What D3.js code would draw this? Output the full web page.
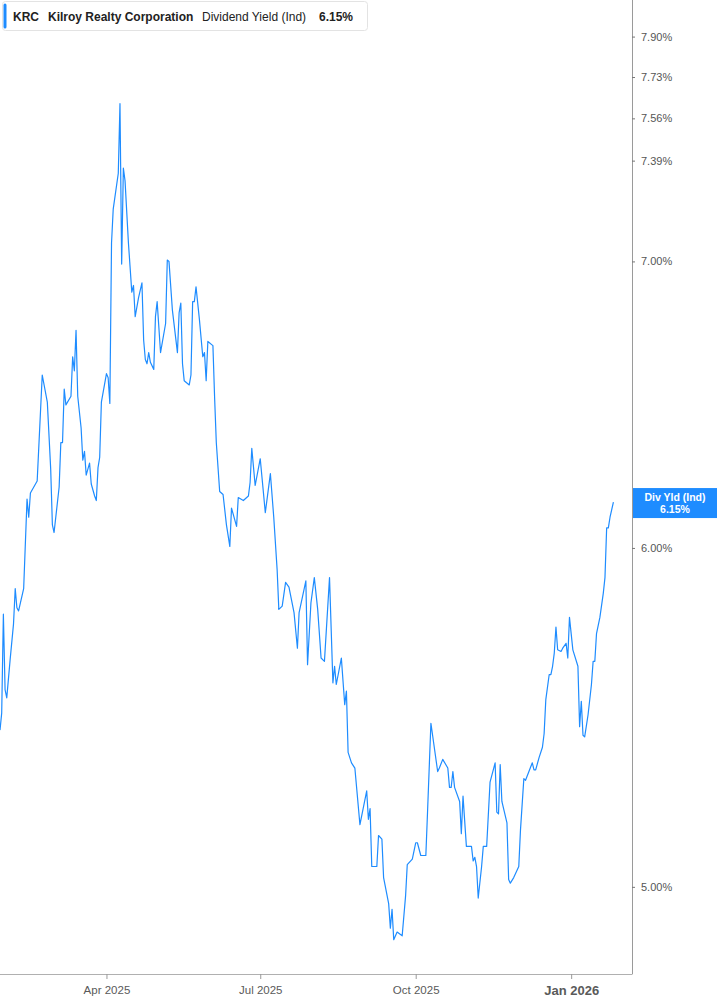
<!DOCTYPE html>
<html>
<head>
<meta charset="utf-8">
<script src="https://cdn.jsdelivr.net/npm/d3@7"></script>
<style>
  html, body { margin: 0; padding: 0; background: #fff; }
  svg { display: block; }
</style>
</head>
<body>
<div id="chart"></div>
<script>
const ticker = "KRC";
const company = "Kilroy Realty Corporation";
const metric = "Dividend Yield (Ind)";
const badgeLabel = "Div Yld (Ind)";

const dates = [
"2025-01-28","2025-01-29","2025-01-30","2025-01-31","2025-02-01","2025-02-03","2025-02-05","2025-02-06","2025-02-07","2025-02-08",
"2025-02-11","2025-02-13","2025-02-14","2025-02-15","2025-02-19","2025-02-22","2025-02-25","2025-02-27","2025-02-28","2025-03-01",
"2025-03-04","2025-03-05","2025-03-06","2025-03-07","2025-03-08","2025-03-11","2025-03-12","2025-03-13","2025-03-14","2025-03-15",
"2025-03-17","2025-03-18","2025-03-19","2025-03-20","2025-03-22","2025-03-23","2025-03-25","2025-03-26","2025-03-27","2025-03-28",
"2025-03-29","2025-04-01","2025-04-02","2025-04-03","2025-04-04","2025-04-05","2025-04-08","2025-04-09","2025-04-10","2025-04-11",
"2025-04-12","2025-04-14","2025-04-16","2025-04-17","2025-04-18","2025-04-20","2025-04-22","2025-04-23","2025-04-24","2025-04-25",
"2025-04-26","2025-04-27","2025-04-29","2025-04-30","2025-05-01","2025-05-03","2025-05-06","2025-05-07","2025-05-08","2025-05-10",
"2025-05-13","2025-05-14","2025-05-15","2025-05-16","2025-05-17","2025-05-20","2025-05-21","2025-05-22","2025-05-23","2025-05-24",
"2025-05-26","2025-05-28","2025-05-29","2025-05-30","2025-05-31","2025-06-03","2025-06-04","2025-06-05","2025-06-07","2025-06-09",
"2025-06-11","2025-06-13","2025-06-14","2025-06-17","2025-06-18","2025-06-21","2025-06-24","2025-06-25","2025-06-26","2025-06-28",
"2025-07-01","2025-07-04","2025-07-07","2025-07-09","2025-07-11","2025-07-12","2025-07-14","2025-07-16","2025-07-18","2025-07-21",
"2025-07-23","2025-07-24","2025-07-28","2025-07-29","2025-07-31","2025-08-02","2025-08-04","2025-08-06","2025-08-08","2025-08-11",
"2025-08-13","2025-08-14","2025-08-15","2025-08-18","2025-08-20","2025-08-21","2025-08-22","2025-08-24","2025-08-26","2025-08-29",
"2025-09-02","2025-09-03","2025-09-04","2025-09-05","2025-09-08","2025-09-09","2025-09-11","2025-09-12","2025-09-15","2025-09-16",
"2025-09-17","2025-09-18","2025-09-20","2025-09-23","2025-09-25","2025-09-26","2025-09-29","2025-10-01","2025-10-02","2025-10-04",
"2025-10-07","2025-10-08","2025-10-10","2025-10-14","2025-10-15","2025-10-17","2025-10-20","2025-10-21","2025-10-22","2025-10-23",
"2025-10-24","2025-10-27","2025-10-28","2025-10-29","2025-10-31","2025-11-03","2025-11-04","2025-11-05","2025-11-06","2025-11-07",
"2025-11-09","2025-11-10","2025-11-12","2025-11-14","2025-11-17","2025-11-18","2025-11-19","2025-11-20","2025-11-21","2025-11-24",
"2025-11-25","2025-11-26","2025-11-28","2025-12-01","2025-12-02","2025-12-04","2025-12-05","2025-12-07","2025-12-09","2025-12-10",
"2025-12-11","2025-12-13","2025-12-15","2025-12-16","2025-12-17","2025-12-19","2025-12-20","2025-12-21","2025-12-22","2025-12-23",
"2025-12-24","2025-12-26","2025-12-27","2025-12-29","2025-12-30","2025-12-31","2026-01-02","2026-01-05","2026-01-06","2026-01-07",
"2026-01-08","2026-01-09","2026-01-11","2026-01-13","2026-01-14","2026-01-15","2026-01-16","2026-01-18","2026-01-20","2026-01-21",
"2026-01-22","2026-01-23","2026-01-24","2026-01-26"
];

const yieldValues = [
5.44,5.49,5.79,5.56,5.535,5.65,5.76,5.87,5.81,5.80,
5.87,6.16,6.10,6.18,6.22,6.585,6.49,6.26,6.075,6.05,
6.20,6.35,6.35,6.535,6.48,6.51,6.65,6.60,6.745,6.51,
6.40,6.29,6.32,6.24,6.28,6.21,6.17,6.155,6.265,6.30,
6.49,6.59,6.575,6.485,7.07,7.20,7.34,7.62,6.99,7.36,
7.31,7.07,6.885,6.91,6.795,6.865,6.92,6.71,6.64,6.625,
6.665,6.63,6.605,6.795,6.85,6.665,6.77,7.005,7.00,6.82,
6.665,6.81,6.845,6.625,6.565,6.55,6.585,6.85,6.85,6.905,
6.785,6.65,6.665,6.565,6.705,6.69,6.505,6.35,6.185,6.175,
6.075,6.005,6.13,6.07,6.165,6.155,6.17,6.215,6.33,6.205,
6.295,6.115,6.245,6.10,5.93,5.805,5.815,5.89,5.875,5.795,
5.685,5.795,5.895,5.635,5.825,5.905,5.805,5.655,5.645,5.905,
5.58,5.63,5.575,5.655,5.515,5.555,5.375,5.345,5.33,5.17,
5.265,5.185,5.215,5.055,5.055,5.14,5.13,5.025,4.955,4.89,
4.94,4.86,4.88,4.87,4.975,5.06,5.075,5.12,5.12,5.085,
5.085,5.205,5.46,5.32,5.33,5.355,5.33,5.275,5.275,5.32,
5.275,5.235,5.145,5.25,5.11,5.11,5.07,5.08,5.055,4.97,
5.055,5.11,5.11,5.29,5.345,5.205,5.20,5.34,5.235,5.175,
5.02,5.01,5.025,5.055,5.155,5.30,5.295,5.32,5.345,5.325,
5.325,5.36,5.39,5.43,5.53,5.605,5.605,5.63,5.67,5.75,
5.68,5.675,5.685,5.70,5.655,5.78,5.68,5.63,5.45,5.525,
5.425,5.42,5.485,5.575,5.645,5.645,5.73,5.78,5.855,5.905,
6.065,6.065,6.10,6.15
];

const yTickValues = [5.00, 6.00, 7.00, 7.39, 7.56, 7.73, 7.90];
const xTickDates = ["2025-04-01", "2025-07-01", "2025-10-01", "2026-01-01"];
const xTickLabels = ["Apr 2025", "Jul 2025", "Oct 2025", "Jan 2026"];
const xDomain = ["2025-01-28", "2026-02-06"];
const yDomain = [4.771, 8.057];

const W = 717, H = 1005;
const plotRight = 632, plotBottom = 974;
const blue = "#1e8cff";

const parse = d3.utcParse("%Y-%m-%d");
const data = dates.map((d, i) => ({ date: parse(d), value: yieldValues[i] }));

const x = d3.scaleUtc().domain(xDomain.map(parse)).range([0, plotRight]);
const y = d3.scaleLog().domain(yDomain).range([plotBottom, 0]);

const svg = d3.select("#chart").append("svg")
  .attr("width", W).attr("height", H)
  .style("font-family", "'Liberation Sans', Arial, sans-serif");

// line
const line = d3.line().x(d => x(d.date)).y(d => y(d.value));
svg.append("path").datum(data)
  .attr("fill", "none")
  .attr("stroke", blue)
  .attr("stroke-width", 1.2)
  .attr("stroke-linejoin", "round")
  .attr("d", line);

// right axis
const yAxis = d3.axisRight(y)
  .tickValues(yTickValues)
  .tickFormat(d => d.toFixed(2) + "%")
  .tickSize(3)
  .tickPadding(6);
const gy = svg.append("g").attr("transform", `translate(${plotRight},0)`).call(yAxis);
gy.select(".domain").attr("stroke", "#9a9a9a").attr("d", `M0.5,0V${plotBottom}`);
gy.selectAll(".tick line").attr("stroke", "#777");
gy.selectAll(".tick text").attr("fill", "#555").style("font-size", "11px")
  .style("font-family", "'Liberation Sans', Arial, sans-serif");

// bottom axis
const xAxis = d3.axisBottom(x)
  .tickValues(xTickDates.map(parse))
  .tickFormat((d, i) => xTickLabels[i])
  .tickSize(5)
  .tickPadding(7);
const gx = svg.append("g").attr("transform", `translate(0,${plotBottom})`).call(xAxis);
gx.select(".domain").attr("stroke", "#b0b0b0").attr("d", `M0,0.5H${plotRight + 0.5}`);
gx.selectAll(".tick line").attr("stroke", "#9a9a9a");
gx.selectAll(".tick text")
  .attr("fill", "#5a5a5a")
  .style("font-size", (d, i) => xTickLabels[i].startsWith("Jan") ? "13px" : "11.5px")
  .style("font-weight", (d, i) => xTickLabels[i].startsWith("Jan") ? "bold" : "normal")
  .style("font-family", "'Liberation Sans', Arial, sans-serif");

// last-value badge
const last = data[data.length - 1];
const by = y(last.value);
const badge = svg.append("g");
badge.append("rect")
  .attr("x", plotRight + 1).attr("y", by - 14)
  .attr("width", W - plotRight - 1).attr("height", 30)
  .attr("fill", blue);
badge.append("text")
  .attr("x", (plotRight + W) / 2 + 0.5).attr("y", by - 1)
  .attr("text-anchor", "middle").attr("fill", "#fff")
  .style("font-size", "10.5px").style("font-weight", "bold")
  .text(badgeLabel);
badge.append("text")
  .attr("x", (plotRight + W) / 2 + 0.5).attr("y", by + 11)
  .attr("text-anchor", "middle").attr("fill", "#fff")
  .style("font-size", "10.5px").style("font-weight", "bold")
  .text(last.value.toFixed(2) + "%");

// header legend
const hdr = svg.append("g");
hdr.append("rect")
  .attr("x", 2.5).attr("y", 1.5).attr("width", 365).attr("height", 29)
  .attr("rx", 3).attr("fill", "#fff").attr("stroke", "#e3e3e3");
hdr.append("rect")
  .attr("x", 3.5).attr("y", 3.5).attr("width", 3).attr("height", 25)
  .attr("rx", 1.5).attr("fill", blue);
const ht = hdr.append("text").attr("y", 21).attr("fill", "#222").style("font-size", "12px");
ht.append("tspan").attr("x", 13).style("font-weight", "bold").text(ticker);
ht.append("tspan").attr("x", 48).style("font-weight", "bold").text(company);
ht.append("tspan").attr("x", 202).text(metric);
ht.append("tspan").attr("x", 319).style("font-weight", "bold").text(last.value.toFixed(2) + "%");
</script>
</body>
</html>
